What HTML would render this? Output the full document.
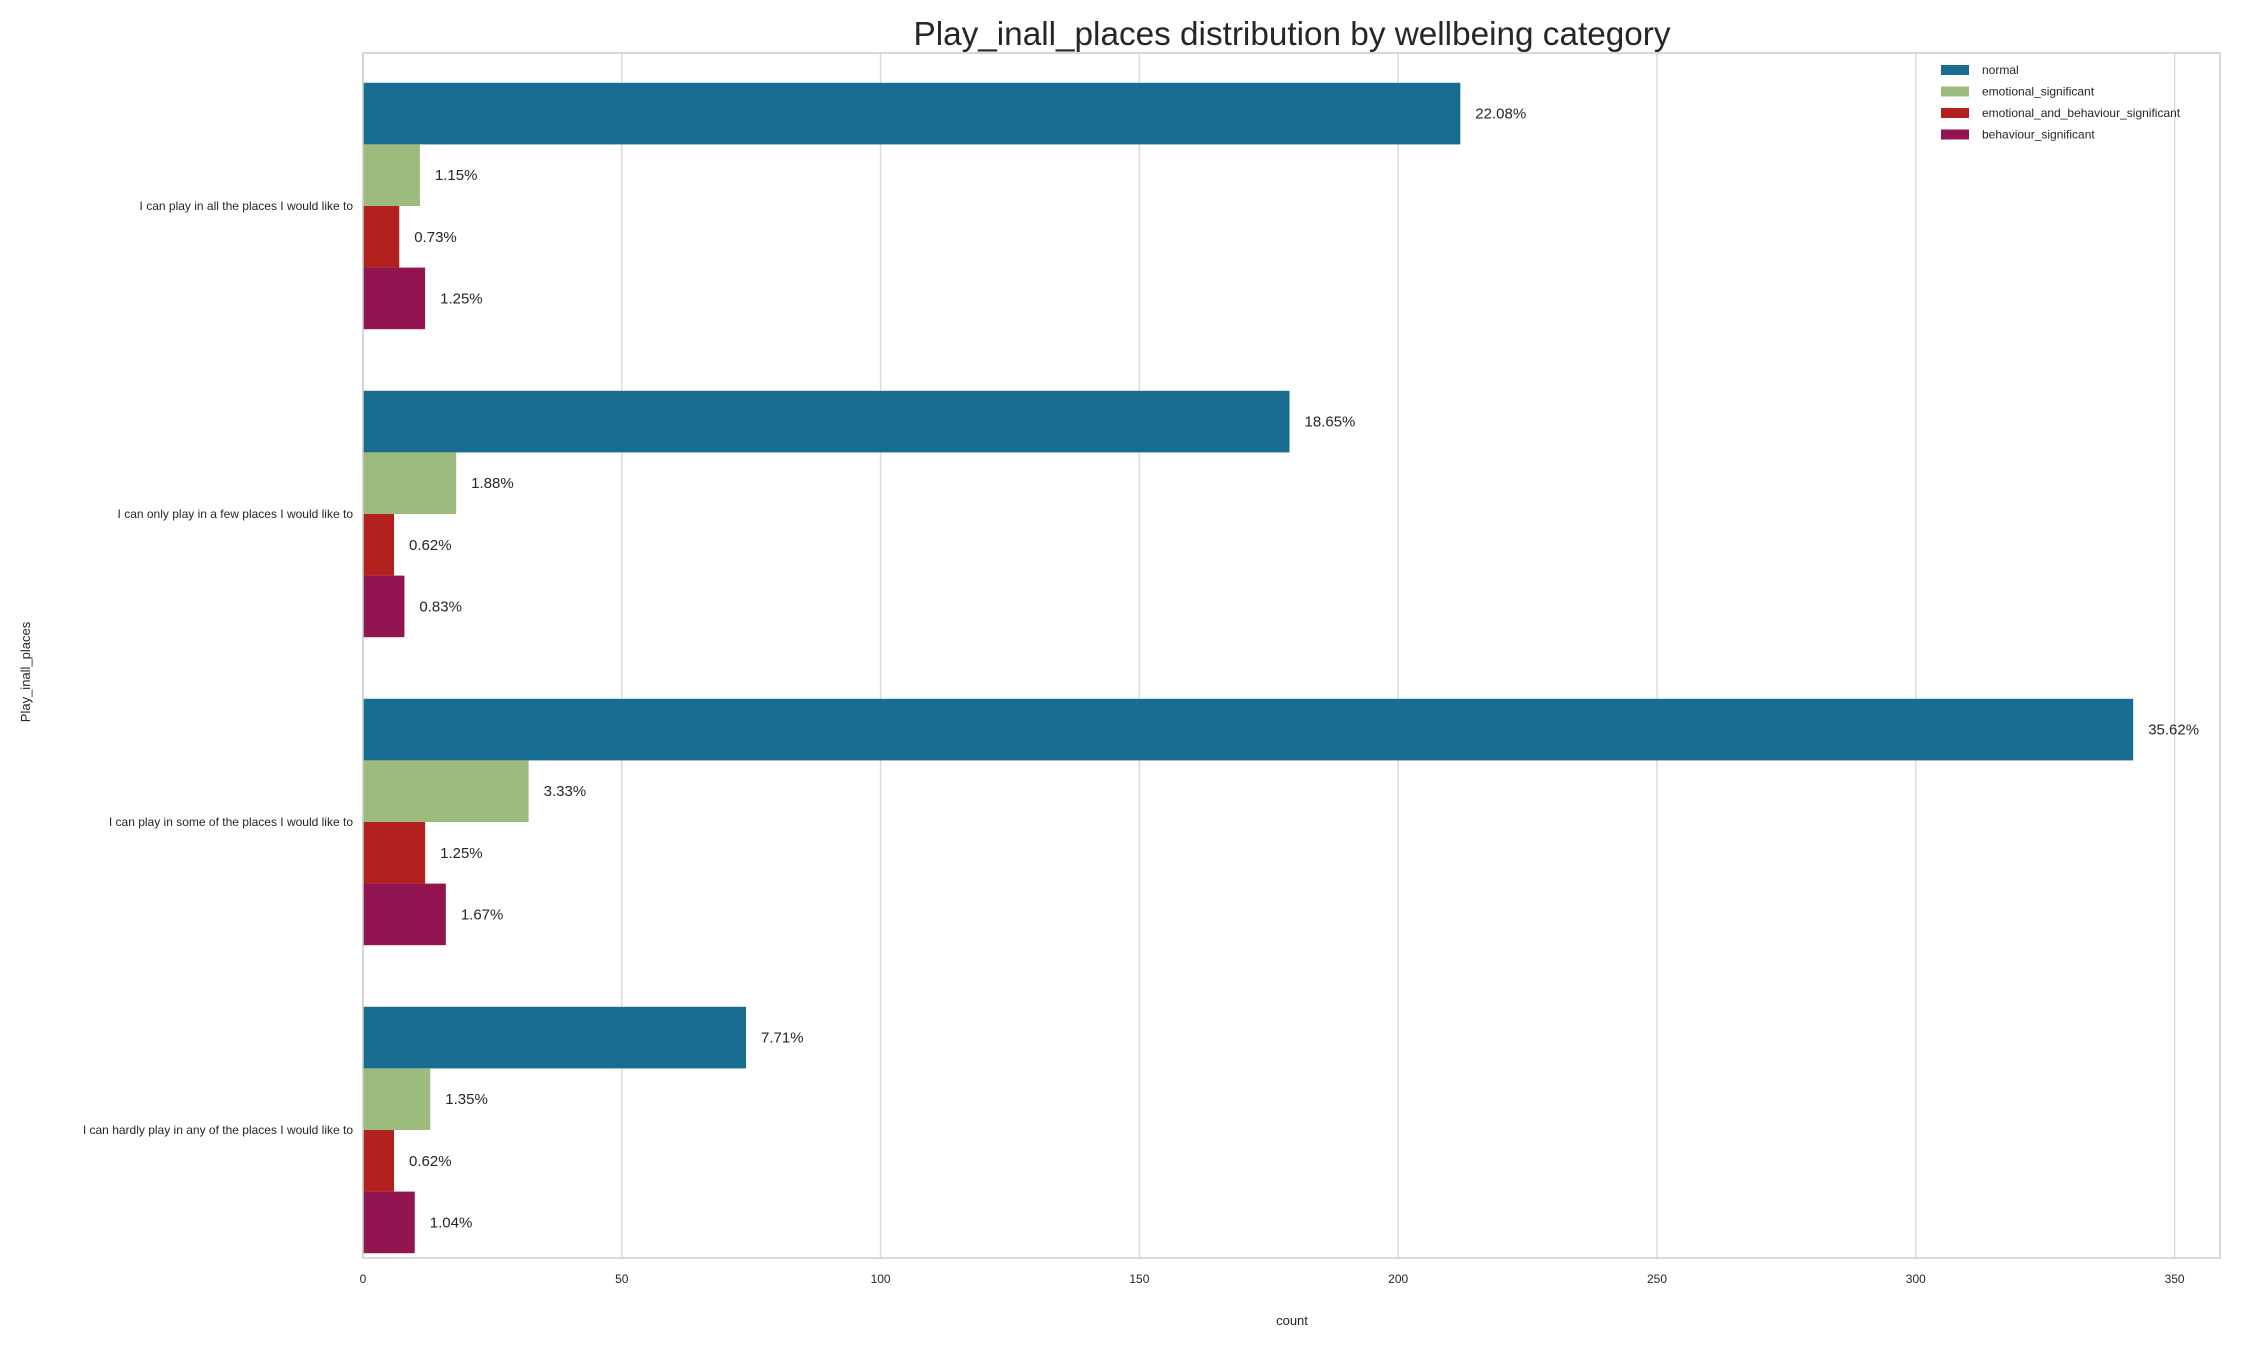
<!DOCTYPE html>
<html><head><meta charset="utf-8"><style>
body{margin:0;background:#fff;}
svg text{font-family:"Liberation Sans",sans-serif;fill:#262626;}
</style></head><body>
<svg id="chart" width="2242" height="1347" xmlns="http://www.w3.org/2000/svg">
<text x="1292" y="45" font-size="33.3" text-anchor="middle">Play_inall_places distribution by wellbeing category</text>
<g id="grid"></g>
<g id="bars"></g>
<rect x="363" y="53" width="1857" height="1205" fill="none" stroke="#cccccc" stroke-width="1.5"/>
<g id="ticks"></g>
<text x="1292" y="1325" font-size="13" text-anchor="middle">count</text>
<text x="0" y="0" font-size="13" text-anchor="middle" transform="translate(30,672) rotate(-90)">Play_inall_places</text>
<g id="legend"></g>
</svg>
<script>
const categories=["I can play in all the places I would like to","I can only play in a few places I would like to","I can play in some of the places I would like to","I can hardly play in any of the places I would like to"];
const seriesNames=["normal","emotional_significant","emotional_and_behaviour_significant","behaviour_significant"];
const normal=[212,179,342,74];
const emotional=[11,18,32,13];
const emoBeh=[7,6,12,6];
const behaviour=[12,8,16,10];
const pctNormal=["22.08%","18.65%","35.62%","7.71%"];
const pctEmotional=["1.15%","1.88%","3.33%","1.35%"];
const pctEmoBeh=["0.73%","0.62%","1.25%","0.62%"];
const pctBehaviour=["1.25%","0.83%","1.67%","1.04%"];
const xTicks=[0,50,100,150,200,250,300,350];
const colors=["#176C8F","#9DBB7D","#B3211E","#921451"];
const NS="http://www.w3.org/2000/svg";
const x=v=>363+v*5.176;
const yc=i=>206+308*i;
const bh=61.6;
function mk(t,a,p){const e=document.createElementNS(NS,t);for(const k in a)e.setAttribute(k,a[k]);p.appendChild(e);return e;}
const grid=document.getElementById('grid'),bars=document.getElementById('bars'),ticks=document.getElementById('ticks'),legend=document.getElementById('legend');
xTicks.forEach(t=>{
 const l=mk('line',{x1:x(t),x2:x(t),y1:53,y2:1258,stroke:'#dcdcdc','stroke-width':1.5},grid);
 
 
 const tx=mk('text',{x:x(t),y:1283,'font-size':12,'text-anchor':'middle'},ticks);
 tx.textContent=t;
 
 
});
const series=[normal,emotional,emoBeh,behaviour];
const pcts=[pctNormal,pctEmotional,pctEmoBeh,pctBehaviour];
categories.forEach((c,i)=>{
 const tx=mk('text',{x:353,y:yc(i)+4,'font-size':12,'text-anchor':'end'},ticks);
 tx.textContent=c;
 
 
 series.forEach((s,j)=>{
  const top=yc(i)-2*bh+j*bh;
  const r=mk('rect',{x:x(0),y:top,width:x(s[i])-x(0),height:bh,fill:colors[j]},bars);
  
  
  const lb=mk('text',{x:x(s[i])+15,y:top+bh/2+5,'font-size':15},bars);
  lb.textContent=pcts[j][i];
  
  
 });
});
seriesNames.forEach((n,j)=>{
 const y=70+j*21.5;
 const r=mk('rect',{x:1941,y:y-5,width:28,height:10,fill:colors[j]},legend);
 
 
 const t=mk('text',{x:1982,y:y+4,'font-size':12},legend);
 t.textContent=n;
 
 
});
</script>
</body></html>
